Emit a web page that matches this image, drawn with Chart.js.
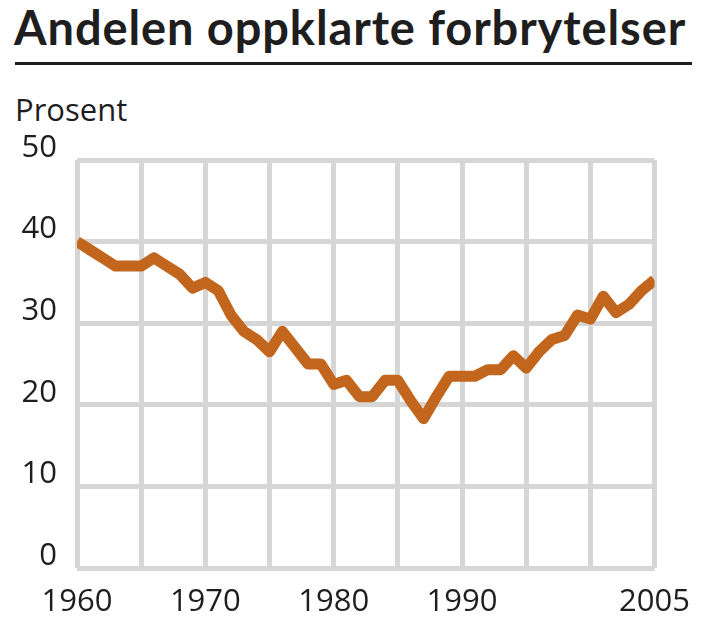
<!DOCTYPE html>
<html>
<head>
<meta charset="utf-8">
<script src="https://cdn.jsdelivr.net/npm/chart.js@4"></script>
<style>
  html, body { margin: 0; padding: 0; background: #fff; }
  #wrap { position: relative; width: 706px; height: 630px; }
  #title {
    position: absolute; left: 14px; top: -1px;
    font-family: Lato, "Open Sans", sans-serif; font-weight: bold;
    font-size: 47px; letter-spacing: 0.9px; color: #1e1e1e; white-space: nowrap;
  }
  #rule { position: absolute; left: 15px; top: 62px; width: 677px; height: 3px; background: #1e1e1e; }
  #unit {
    position: absolute; left: 15px; top: 88px;
    font-family: "Open Sans", sans-serif; font-size: 31px; color: #1e1e1e;
  }
  canvas { position: absolute; left: 0; top: 0; }
</style>
</head>
<body>
<div id="wrap">
  <div id="title">Andelen oppklarte forbrytelser</div>
  <div id="rule"></div>
  <div id="unit">Prosent</div>
  <canvas id="chart" width="706" height="630"></canvas>
</div>
<script>
// ==============================
// Data
// ==============================
const years = [1960, 1961, 1962, 1963, 1964, 1965, 1966, 1967, 1968, 1969,
               1970, 1971, 1972, 1973, 1974, 1975, 1976, 1977, 1978, 1979,
               1980, 1981, 1982, 1983, 1984, 1985, 1986, 1987, 1988, 1989,
               1990, 1991, 1992, 1993, 1994, 1995, 1996, 1997, 1998, 1999,
               2000, 2001, 2002, 2003, 2004, 2005];
const solved = [40, 39, 38, 37, 37, 37, 38, 37, 36, 34.3,
                35, 34, 31, 29, 28, 26.5, 29, 27, 25, 25,
                22.5, 23, 21, 21, 23, 23, 20.5, 18.3, 21, 23.5,
                23.5, 23.5, 24.3, 24.3, 26, 24.5, 26.5, 28, 28.5, 31,
                30.5, 33.3, 31.3, 32.3, 34, 35.3];
const gridYears = [1960, 1965, 1970, 1975, 1980, 1985, 1990, 1995, 2000, 2005];
const labelYears = [1960, 1970, 1980, 1990, 2005];
const yTicks = [0, 10, 20, 30, 40, 50];

const tickFont = { family: 'Open Sans', size: 31 };
const gridColor = '#d6d6d6';

const ctx = document.getElementById('chart').getContext('2d');
new Chart(ctx, {
    type: 'line',
    data: {
        datasets: [{
            data: years.map((y, i) => ({ x: y, y: solved[i] })),
            borderColor: '#c2661e',
            borderWidth: 11,
            borderJoinStyle: 'round',
            pointRadius: 0,
            tension: 0,
            fill: false
        }]
    },
    options: {
        responsive: false,
        animation: false,
        layout: { padding: { top: 160, right: 47, left: 0, bottom: 0 } },
        plugins: { legend: { display: false }, tooltip: { enabled: false } },
        scales: {
            x: {
                type: 'linear',
                min: 1960,
                max: 2005,
                afterBuildTicks: s => { s.ticks = gridYears.map(v => ({ value: v })); },
                afterFit: s => { s.height = 62; },
                grid: { color: gridColor, lineWidth: 5, drawTicks: false },
                border: { display: false },
                ticks: {
                    autoSkip: false,
                    maxRotation: 0,
                    padding: 16,
                    color: '#1e1e1e',
                    font: tickFont,
                    callback: v => labelYears.includes(v) ? String(v) : ''
                }
            },
            y: {
                min: 0,
                max: 50,
                afterBuildTicks: s => { s.ticks = yTicks.map(v => ({ value: v })); },
                afterFit: s => { s.width = 77; },
                grid: { color: gridColor, lineWidth: 5, drawTicks: false },
                border: { display: false },
                ticks: {
                    padding: 20,
                    labelOffset: -12,
                    color: '#1e1e1e',
                    font: tickFont
                }
            }
        }
    }
});
</script>
</body>
</html>
